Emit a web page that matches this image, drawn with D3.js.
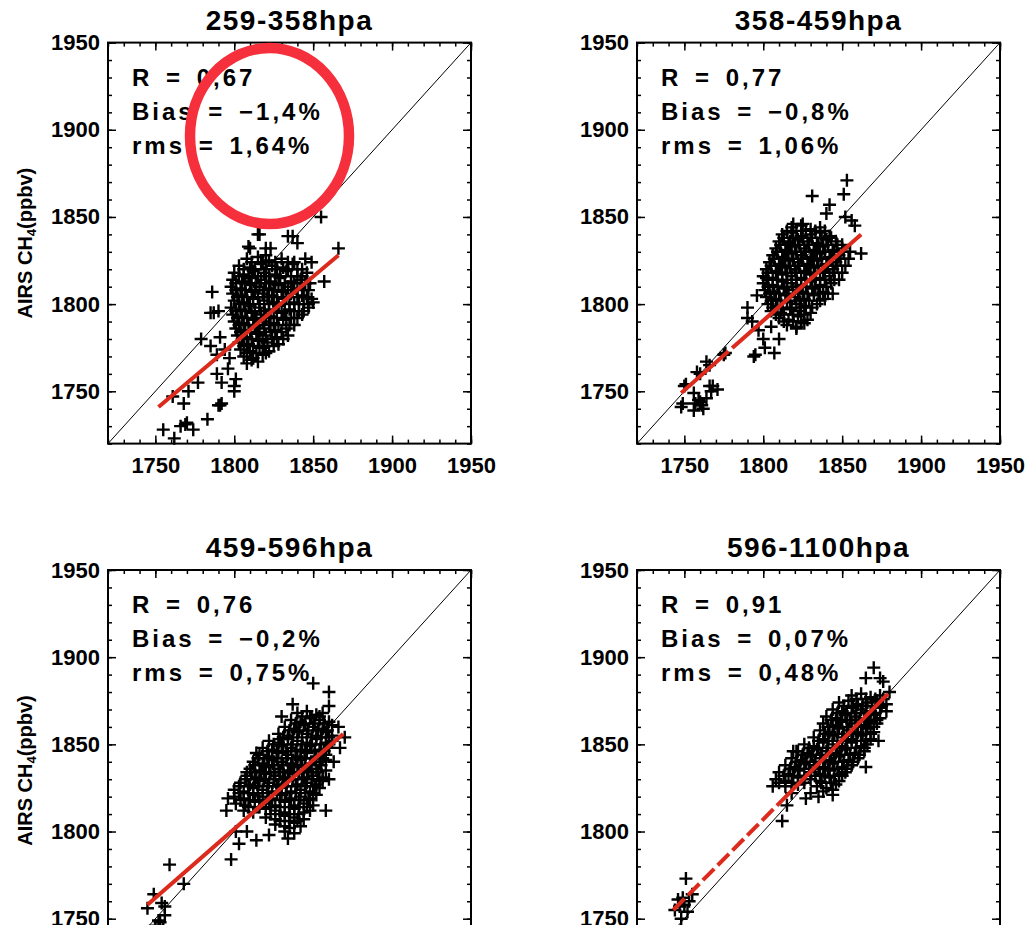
<!DOCTYPE html>
<html>
<head>
<meta charset="utf-8">
<script src="https://cdn.jsdelivr.net/npm/d3@7/dist/d3.min.js"></script>
<style>
body { margin: 0; background: #fff; }
text { font-family: "Liberation Sans", Arial, sans-serif; font-weight: bold; fill: #000; }
</style>
</head>
<body>
<svg id="chart" width="1025" height="925"></svg>
<script>
// panel titles and the stats printed in each box
var titles = ["259-358hpa", "358-459hpa", "459-596hpa", "596-1100hpa"];
var statR = ["0,67", "0,77", "0,76", "0,91"];
var statBias = ["\u22121,4%", "\u22120,8%", "\u22120,2%", "0,07%"];
var statRms = ["1,64%", "1,06%", "0,75%", "0,48%"];

var majorTicks = [1750, 1800, 1850, 1900, 1950];
var axisDomain = [1720, 1950];

// regression line end points (ppbv)
var fitStart = [[1752, 1741], [1748, 1749], [1745, 1758], [1743, 1755]];
var fitEnd = [[1866, 1828], [1862, 1840], [1869, 1856], [1879, 1879]];

// x = in-situ, y = AIRS
var pointsA = [
  [1808,1826],[1815,1827],[1822,1825],[1830,1826],[1838,1824],
  [1803,1822],[1810,1821],[1817,1823],[1824,1822],[1831,1821],[1837,1823],[1843,1820],
  [1800,1818],[1806,1817],[1812,1819],[1819,1818],[1826,1817],[1833,1819],[1840,1816],[1846,1818],
  [1799,1814],[1805,1813],[1811,1815],[1817,1814],[1823,1813],[1829,1815],[1836,1813],[1842,1814],[1848,1812],
  [1798,1810],[1804,1809],[1810,1811],[1816,1810],[1822,1809],[1828,1811],[1834,1810],[1840,1809],[1847,1808],
  [1799,1806],[1805,1805],[1811,1807],[1818,1806],[1824,1805],[1830,1807],[1836,1806],[1843,1805],[1849,1803],
  [1800,1802],[1806,1801],[1812,1803],[1819,1802],[1825,1801],[1831,1803],[1838,1801],[1844,1800],[1850,1801],
  [1798,1798],[1804,1797],[1810,1799],[1816,1798],[1822,1797],[1828,1799],[1835,1797],[1841,1796],[1847,1798],
  [1799,1794],[1805,1793],[1811,1795],[1817,1794],[1823,1793],[1830,1795],[1836,1792],[1843,1794],
  [1800,1790],[1806,1789],[1812,1791],[1818,1790],[1825,1789],[1831,1791],[1838,1788],
  [1801,1786],[1807,1785],[1813,1787],[1819,1786],[1826,1785],[1833,1786],
  [1802,1782],[1808,1781],[1814,1783],[1820,1782],[1827,1781],[1834,1782],
  [1803,1778],[1809,1777],[1815,1779],[1821,1778],[1828,1777],
  [1804,1774],[1810,1773],[1816,1775],[1822,1773],
  [1806,1770],[1812,1769],[1818,1771],[1808,1766],[1815,1767],
  [1811,1824],[1818,1824],[1826,1824],[1834,1824],
  [1806,1820],[1813,1820],[1820,1820],[1827,1820],[1834,1820],[1840,1820],
  [1803,1816],[1809,1816],[1815,1816],[1822,1816],[1829,1816],[1836,1816],[1843,1816],
  [1801,1812],[1807,1812],[1814,1812],[1820,1812],[1826,1812],[1832,1812],[1838,1812],[1845,1812],
  [1801,1808],[1807,1808],[1813,1808],[1819,1808],[1825,1808],[1831,1808],[1837,1808],[1844,1808],
  [1802,1804],[1808,1804],[1815,1804],[1821,1804],[1827,1804],[1833,1804],[1840,1804],[1846,1804],
  [1803,1800],[1809,1800],[1816,1800],[1822,1800],[1828,1800],[1835,1800],[1841,1800],[1847,1800],
  [1801,1796],[1807,1796],[1813,1796],[1819,1796],[1825,1796],[1832,1796],[1838,1796],[1844,1796],
  [1802,1792],[1808,1792],[1814,1792],[1820,1792],[1827,1792],[1833,1792],[1840,1792],
  [1803,1788],[1809,1788],[1815,1788],[1822,1788],[1828,1788],[1835,1788],
  [1804,1784],[1810,1784],[1816,1784],[1823,1784],[1830,1784],
  [1805,1780],[1811,1780],[1818,1780],[1824,1780],[1831,1780],
  [1806,1776],[1812,1776],[1819,1776],[1825,1776],
  [1808,1772],[1814,1772],[1820,1772],[1811,1768],
  [1855,1850],[1815,1840],[1809,1833],[1823,1832],[1834,1839],[1840,1835],[1866,1832],[1849,1824],
  [1857,1813],[1786,1807],[1785,1795],[1790,1796],[1779,1780],[1785,1776],[1791,1781],[1777,1755],
  [1771,1750],[1761,1747],[1791,1742],[1768,1743],[1783,1734],[1770,1732],[1766,1730],[1774,1728],
  [1755,1728],[1762,1723],[1800,1753],[1801,1757],[1796,1763],[1789,1760],[1792,1755],[1797,1769],
  [1794,1774],[1789,1771],[1816,1840],[1820,1832],[1810,1832],[1837,1839],[1787,1795],[1790,1742],
  [1800,1750],[1769,1731],[1792,1743],[1820,1828],[1845,1826]
];

var pointsB = [
  [1818,1844],[1824,1845],[1830,1843],[1836,1844],
  [1812,1840],[1818,1841],[1824,1839],[1830,1840],[1836,1841],[1842,1839],
  [1810,1836],[1816,1835],[1822,1837],[1828,1836],[1834,1835],[1840,1837],[1846,1836],[1850,1834],
  [1808,1832],[1814,1831],[1820,1833],[1826,1832],[1832,1831],[1838,1833],[1844,1831],[1850,1832],[1855,1830],
  [1806,1828],[1812,1827],[1818,1829],[1824,1828],[1830,1827],[1836,1829],[1842,1827],[1848,1828],[1854,1826],
  [1804,1824],[1810,1823],[1816,1825],[1822,1824],[1828,1823],[1834,1825],[1840,1823],[1846,1824],[1852,1822],
  [1802,1820],[1808,1819],[1814,1821],[1820,1820],[1826,1819],[1832,1821],[1838,1819],[1844,1820],[1850,1818],
  [1800,1816],[1806,1815],[1812,1817],[1818,1816],[1824,1815],[1830,1817],[1836,1815],[1842,1816],[1848,1814],
  [1800,1812],[1806,1811],[1812,1813],[1818,1812],[1824,1811],[1830,1813],[1836,1811],[1843,1812],
  [1801,1808],[1807,1807],[1813,1809],[1819,1808],[1825,1807],[1831,1809],[1838,1807],[1844,1806],
  [1802,1804],[1808,1803],[1814,1805],[1820,1804],[1826,1803],[1832,1805],[1839,1803],
  [1803,1800],[1809,1799],[1815,1801],[1821,1800],[1827,1799],[1834,1800],
  [1805,1796],[1811,1795],[1817,1797],[1823,1796],[1830,1795],
  [1810,1792],[1816,1791],[1822,1793],[1828,1791],[1815,1788],[1821,1787],[1826,1789],
  [1815,1842],[1821,1842],[1827,1842],[1833,1842],[1839,1842],
  [1813,1838],[1819,1838],[1825,1838],[1831,1838],[1837,1838],[1843,1838],
  [1811,1834],[1817,1834],[1823,1834],[1829,1834],[1835,1834],[1841,1834],[1847,1834],
  [1809,1830],[1815,1830],[1821,1830],[1827,1830],[1833,1830],[1839,1830],[1845,1830],[1851,1830],
  [1807,1826],[1813,1826],[1819,1826],[1825,1826],[1831,1826],[1837,1826],[1843,1826],[1849,1826],
  [1805,1822],[1811,1822],[1817,1822],[1823,1822],[1829,1822],[1835,1822],[1841,1822],[1847,1822],
  [1803,1818],[1809,1818],[1815,1818],[1821,1818],[1827,1818],[1833,1818],[1839,1818],[1845,1818],
  [1803,1814],[1809,1814],[1815,1814],[1821,1814],[1827,1814],[1833,1814],[1839,1814],[1845,1814],
  [1803,1810],[1809,1810],[1815,1810],[1821,1810],[1827,1810],[1833,1810],[1840,1810],
  [1804,1806],[1810,1806],[1816,1806],[1822,1806],[1828,1806],[1835,1806],[1841,1806],
  [1805,1802],[1811,1802],[1817,1802],[1823,1802],[1829,1802],[1836,1802],
  [1806,1798],[1812,1798],[1818,1798],[1824,1798],[1831,1798],
  [1808,1794],[1813,1794],[1819,1794],[1826,1794],[1813,1790],[1819,1790],[1824,1790],
  [1853,1871],[1851,1863],[1831,1862],[1842,1857],[1840,1852],[1852,1850],[1856,1848],[1858,1845],
  [1862,1829],[1819,1846],[1825,1846],[1817,1836],[1802,1815],[1796,1805],[1790,1798],[1790,1792],
  [1800,1780],[1801,1775],[1795,1771],[1807,1772],[1810,1780],[1821,1786],[1776,1772],[1766,1765],
  [1758,1761],[1768,1753],[1750,1753],[1756,1749],[1760,1744],[1749,1743],[1756,1739],[1762,1740],
  [1764,1746],[1767,1750],[1748,1741],[1766,1753],[1764,1767],[1775,1771],[1794,1770],[1751,1754],
  [1760,1760],[1771,1751],[1759,1745],[1761,1742],[1757,1743],[1797,1785],[1793,1790],[1805,1787]
];

var pointsC = [
  [1840,1868],[1846,1869],[1852,1867],[1856,1868],
  [1836,1864],[1842,1863],[1848,1865],[1854,1864],[1860,1863],
  [1832,1860],[1838,1859],[1844,1861],[1850,1860],[1856,1859],[1862,1861],
  [1828,1856],[1834,1855],[1840,1857],[1846,1856],[1852,1855],[1858,1857],[1862,1855],
  [1822,1852],[1828,1851],[1834,1853],[1840,1852],[1846,1851],[1852,1853],[1858,1851],[1862,1852],
  [1818,1848],[1824,1847],[1830,1849],[1836,1848],[1842,1847],[1848,1849],[1854,1847],[1860,1848],
  [1816,1844],[1822,1843],[1828,1845],[1834,1844],[1840,1843],[1846,1845],[1852,1843],[1858,1844],
  [1812,1840],[1818,1839],[1824,1841],[1830,1840],[1836,1839],[1842,1841],[1848,1839],[1854,1840],[1858,1841],
  [1810,1836],[1816,1835],[1822,1837],[1828,1836],[1834,1835],[1840,1837],[1846,1835],[1852,1836],[1858,1835],
  [1808,1832],[1814,1831],[1820,1833],[1826,1832],[1832,1831],[1838,1833],[1844,1831],[1850,1832],[1856,1831],
  [1804,1828],[1810,1827],[1816,1829],[1822,1828],[1828,1827],[1834,1829],[1840,1827],[1846,1828],[1852,1827],[1856,1829],
  [1800,1824],[1806,1823],[1812,1825],[1818,1824],[1824,1823],[1830,1825],[1836,1823],[1842,1824],[1848,1823],[1854,1825],
  [1800,1820],[1806,1819],[1812,1821],[1818,1820],[1824,1819],[1830,1821],[1836,1819],[1842,1820],[1848,1819],[1852,1821],
  [1801,1816],[1807,1815],[1813,1817],[1820,1816],[1826,1815],[1832,1817],[1838,1815],[1844,1816],[1850,1815],
  [1806,1812],[1812,1811],[1820,1813],[1826,1812],[1832,1811],[1838,1813],[1844,1811],[1848,1812],
  [1820,1808],[1826,1807],[1832,1809],[1838,1808],[1844,1807],[1826,1804],[1832,1803],[1838,1805],[1842,1803],
  [1832,1800],[1838,1799],
  [1843,1866],[1849,1866],[1854,1866],
  [1839,1862],[1845,1862],[1851,1862],[1857,1862],
  [1835,1858],[1841,1858],[1847,1858],[1853,1858],[1859,1858],
  [1831,1854],[1837,1854],[1843,1854],[1849,1854],[1855,1854],[1860,1854],
  [1825,1850],[1831,1850],[1837,1850],[1843,1850],[1849,1850],[1855,1850],[1860,1850],
  [1821,1846],[1827,1846],[1833,1846],[1839,1846],[1845,1846],[1851,1846],[1857,1846],
  [1815,1842],[1821,1842],[1827,1842],[1833,1842],[1839,1842],[1845,1842],[1851,1842],[1856,1842],
  [1813,1838],[1819,1838],[1825,1838],[1831,1838],[1837,1838],[1843,1838],[1849,1838],[1855,1838],
  [1811,1834],[1817,1834],[1823,1834],[1829,1834],[1835,1834],[1841,1834],[1847,1834],[1853,1834],
  [1807,1830],[1813,1830],[1819,1830],[1825,1830],[1831,1830],[1837,1830],[1843,1830],[1849,1830],[1854,1830],
  [1803,1826],[1809,1826],[1815,1826],[1821,1826],[1827,1826],[1833,1826],[1839,1826],[1845,1826],[1851,1826],
  [1803,1822],[1809,1822],[1815,1822],[1821,1822],[1827,1822],[1833,1822],[1839,1822],[1845,1822],[1850,1822],
  [1804,1818],[1810,1818],[1816,1818],[1822,1818],[1829,1818],[1835,1818],[1841,1818],[1847,1818],
  [1809,1814],[1816,1814],[1823,1814],[1829,1814],[1835,1814],[1841,1814],[1846,1814],
  [1823,1810],[1829,1810],[1835,1810],[1841,1810],[1829,1806],[1835,1806],[1840,1806],[1835,1802],
  [1850,1885],[1860,1880],[1837,1873],[1830,1866],[1860,1872],[1870,1854],[1829,1853],[1814,1845],
  [1808,1834],[1796,1819],[1801,1800],[1814,1795],[1822,1798],[1803,1793],[1798,1784],[1759,1781],
  [1768,1770],[1749,1764],[1745,1756],[1754,1759],[1756,1752],[1752,1749],[1756,1757],[1834,1796],
  [1858,1812],[1860,1830],[1867,1848],[1753,1748],[1750,1746],[1755,1744],[1808,1800],[1795,1812],
  [1866,1860],[1863,1840]
];

var pointsD = [
  [1856,1878],[1862,1879],[1868,1877],[1874,1878],
  [1848,1874],[1854,1875],[1860,1873],[1866,1874],[1872,1875],[1878,1873],
  [1844,1870],[1850,1869],[1856,1871],[1862,1870],[1868,1869],[1874,1871],
  [1840,1866],[1846,1865],[1852,1867],[1858,1866],[1864,1865],[1870,1867],[1874,1865],
  [1838,1862],[1844,1861],[1850,1863],[1856,1862],[1862,1861],[1868,1863],[1872,1862],
  [1836,1858],[1842,1857],[1848,1859],[1854,1858],[1860,1857],[1866,1859],[1870,1857],
  [1832,1854],[1838,1853],[1844,1855],[1850,1854],[1856,1853],[1862,1855],[1868,1853],
  [1826,1850],[1832,1849],[1838,1851],[1844,1850],[1850,1849],[1856,1851],[1862,1849],[1866,1850],
  [1822,1846],[1828,1845],[1834,1847],[1840,1846],[1846,1845],[1852,1847],[1858,1845],[1864,1846],
  [1818,1842],[1824,1841],[1830,1843],[1836,1842],[1842,1841],[1848,1843],[1854,1841],[1860,1842],
  [1814,1838],[1820,1837],[1826,1839],[1832,1838],[1838,1837],[1844,1839],[1850,1837],[1856,1838],
  [1810,1834],[1816,1833],[1822,1835],[1830,1834],[1836,1833],[1842,1835],[1848,1833],[1852,1834],
  [1808,1830],[1814,1829],[1822,1831],[1830,1830],[1836,1829],[1842,1831],[1848,1829],
  [1814,1826],[1822,1827],[1834,1826],[1840,1825],[1846,1827],[1830,1822],[1838,1823],[1844,1821],
  [1859,1876],[1865,1876],[1871,1876],
  [1851,1872],[1857,1872],[1863,1872],[1869,1872],[1875,1872],
  [1847,1868],[1853,1868],[1859,1868],[1865,1868],[1871,1868],
  [1843,1864],[1849,1864],[1855,1864],[1861,1864],[1867,1864],[1872,1864],
  [1841,1860],[1847,1860],[1853,1860],[1859,1860],[1865,1860],[1870,1860],
  [1839,1856],[1845,1856],[1851,1856],[1857,1856],[1863,1856],[1868,1856],
  [1835,1852],[1841,1852],[1847,1852],[1853,1852],[1859,1852],[1865,1852],
  [1829,1848],[1835,1848],[1841,1848],[1847,1848],[1853,1848],[1859,1848],[1864,1848],
  [1825,1844],[1831,1844],[1837,1844],[1843,1844],[1849,1844],[1855,1844],[1861,1844],
  [1821,1840],[1827,1840],[1833,1840],[1839,1840],[1845,1840],[1851,1840],[1857,1840],
  [1817,1836],[1823,1836],[1829,1836],[1835,1836],[1841,1836],[1847,1836],[1853,1836],
  [1813,1832],[1819,1832],[1826,1832],[1833,1832],[1839,1832],[1845,1832],[1850,1832],
  [1818,1828],[1826,1828],[1837,1828],[1843,1828],
  [1870,1894],[1865,1888],[1874,1888],[1876,1886],[1880,1880],[1878,1869],[1873,1852],[1865,1837],
  [1844,1824],[1827,1819],[1812,1806],[1810,1828],[1815,1815],[1819,1846],[1751,1773],[1746,1761],
  [1750,1758],[1748,1750],[1755,1764],[1744,1755],[1752,1754],[1821,1846],[1806,1826],[1818,1822],
  [1835,1820],[1876,1876],[1749,1762],[1747,1757],[1753,1760]
];

var panelPoints = [pointsA, pointsB, pointsC, pointsD];

var svg = d3.select("#chart");
var panelW = 363, panelH = 401;
var panelPos = [[108, 42.6], [637, 42.6], [108, 570], [637, 570]];
var fitDash = ["none", "63,5,400", "none", "16,5,16,5,16,5,16,5,16,5,16,5,16,5,400"];

function drawPanel(i) {
  var left = panelPos[i][0], top = panelPos[i][1];
  var g = svg.append("g").attr("transform", "translate(" + left + "," + top + ")");

  var x = d3.scaleLinear().domain(axisDomain).range([0, panelW]);
  var y = d3.scaleLinear().domain(axisDomain).range([panelH, 0]);
  var minor = d3.range(1720, 1951, 10);

  // minor ticks on all four sides
  g.append("g").attr("transform", "translate(0," + panelH + ")")
    .call(d3.axisBottom(x).tickValues(minor).tickSize(-4).tickFormat(""));
  g.append("g").call(d3.axisTop(x).tickValues(minor).tickSize(-4).tickFormat(""));
  g.append("g").call(d3.axisLeft(y).tickValues(minor).tickSize(-4).tickFormat(""));
  g.append("g").attr("transform", "translate(" + panelW + ",0)")
    .call(d3.axisRight(y).tickValues(minor).tickSize(-4).tickFormat(""));

  // major ticks, x labels only where the picture shows them (top row)
  var showX = i < 2;
  g.append("g").attr("class", "xax").attr("transform", "translate(0," + panelH + ")")
    .call(d3.axisBottom(x).tickValues(majorTicks).tickSize(-8).tickPadding(14)
      .tickFormat(showX ? d3.format("d") : ""));
  g.append("g").call(d3.axisTop(x).tickValues(majorTicks).tickSize(-8).tickFormat(""));
  g.append("g").attr("class", "yax")
    .call(d3.axisLeft(y).tickValues(majorTicks).tickSize(-8).tickPadding(8).tickFormat(d3.format("d")));
  g.append("g").attr("transform", "translate(" + panelW + ",0)")
    .call(d3.axisRight(y).tickValues(majorTicks).tickSize(-8).tickFormat(""));

  g.selectAll(".domain").remove();
  g.selectAll(".tick line").attr("stroke", "#000").attr("stroke-width", 1.5);
  g.selectAll(".xax text, .yax text")
    .style("font-family", "'Liberation Sans', Arial, sans-serif")
    .style("font-weight", "bold")
    .style("font-size", "22px")
    .attr("fill", "#000");
  if (!showX) g.selectAll(".xax text").remove();

  g.append("rect").attr("width", panelW).attr("height", panelH)
    .attr("fill", "none").attr("stroke", "#000").attr("stroke-width", 2);

  // 1:1 line
  g.append("line")
    .attr("x1", x(axisDomain[0])).attr("y1", y(axisDomain[0]))
    .attr("x2", x(axisDomain[1])).attr("y2", y(axisDomain[1]))
    .attr("stroke", "#000").attr("stroke-width", 1);

  // plus markers
  g.selectAll(".pt")
    .data(panelPoints[i])
    .enter().append("path")
    .attr("class", "pt")
    .attr("d", "M-6.5,0H6.5M0,-6.5V6.5")
    .attr("transform", function(d) { return "translate(" + x(d[0]) + "," + y(d[1]) + ")"; })
    .attr("stroke", "#000")
    .attr("stroke-width", 2.4)
    .attr("fill", "none");

  // regression line
  var line = d3.line().x(function(d) { return x(d[0]); }).y(function(d) { return y(d[1]); });
  g.append("path")
    .attr("d", line([fitStart[i], fitEnd[i]]))
    .attr("stroke", "#dc2a1c")
    .attr("stroke-width", 4)
    .attr("stroke-dasharray", fitDash[i])
    .attr("fill", "none");

  // title
  g.append("text")
    .attr("x", panelW / 2).attr("y", -13)
    .attr("text-anchor", "middle")
    .style("font-size", "28px")
    .style("letter-spacing", "1.5px")
    .text(titles[i]);

  // stats
  var lines = ["R = " + statR[i], "Bias = " + statBias[i], "rms = " + statRms[i]];
  g.selectAll(".stat")
    .data(lines)
    .enter().append("text")
    .attr("class", "stat")
    .attr("x", 24)
    .attr("y", function(d, k) { return 43 + k * 34; })
    .style("font-size", "24px")
    .style("letter-spacing", "3px")
    .style("word-spacing", "4px")
    .text(function(d) { return d; });

  // y title on the left column only
  if (i % 2 == 0) {
    var t = svg.append("text")
      .attr("transform", "translate(32," + (top + panelH / 2) + ") rotate(-90)")
      .attr("text-anchor", "middle")
      .style("font-size", "20px");
    t.append("tspan").text("AIRS CH");
    t.append("tspan").attr("dy", 4).style("font-size", "13px").text("4");
    t.append("tspan").attr("dy", -4).text("(ppbv)");
  }
}

for (var i = 0; i < 4; i++) {
  drawPanel(i);
}

// red highlight ring drawn over the first panel
svg.append("ellipse")
  .attr("cx", 269.5).attr("cy", 136)
  .attr("rx", 79.5).attr("ry", 88)
  .attr("fill", "none")
  .attr("stroke", "#f52f3b")
  .attr("stroke-width", 10.5);
</script>
</body>
</html>
